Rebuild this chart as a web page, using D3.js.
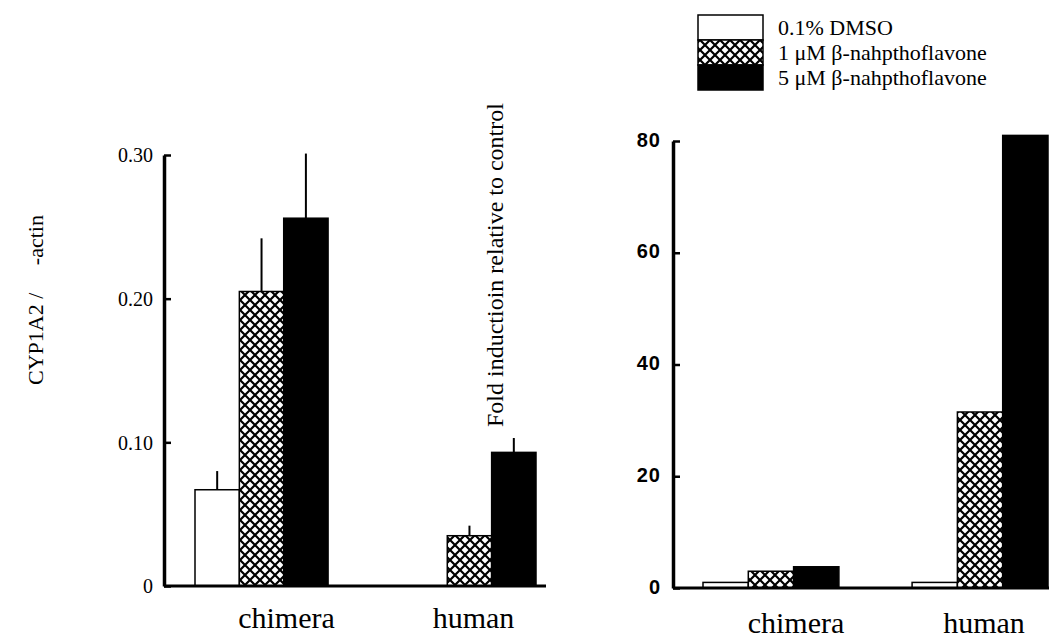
<!DOCTYPE html>
<html>
<head>
<meta charset="utf-8">
<script src="https://cdn.jsdelivr.net/npm/d3@7"></script>
<style>
  body { margin: 0; background: #fff; }
  svg { display: block; }
  text { fill: #000; }
</style>
</head>
<body>
<svg id="chart" width="1049" height="641"></svg>
<script>
// ---------- data ----------
const categories = ["chimera", "human"];
const seriesNames = ["0.1% DMSO", "1 μM β-nahpthoflavone", "5 μM β-nahpthoflavone"];

// left panel: CYP1A2 / β-actin
const leftDmso   = [0.067, 0.0];
const leftBnf1   = [0.205, 0.035];
const leftBnf5   = [0.256, 0.093];
const leftErrDmso = [0.013, 0.0];
const leftErrBnf1 = [0.037, 0.007];
const leftErrBnf5 = [0.045, 0.010];
const leftTicks = [0, 0.10, 0.20, 0.30];
const leftTickLabels = ["0", "0.10", "0.20", "0.30"];

// right panel: fold induction relative to control
const rightDmso = [1.0, 1.0];
const rightBnf1 = [3.0, 31.5];
const rightBnf5 = [3.8, 81];
const rightTicks = [0, 20, 40, 60, 80];
const rightTickLabels = ["0", "20", "40", "60", "80"];

const leftYLabel = "CYP1A2 /     -actin";
const rightYLabel = "Fold inductioin relative to control";

// ---------- setup ----------
const svg = d3.select("#chart");
const defs = svg.append("defs");
const pat = defs.append("pattern").attr("id", "xhatch")
  .attr("patternUnits", "userSpaceOnUse").attr("width", 10).attr("height", 10);
pat.append("rect").attr("width", 10).attr("height", 10).attr("fill", "#fff");
pat.append("path").attr("d", "M-1,-1 L11,11 M-1,11 L11,-1 M-6,4 L6,16 M4,-6 L16,6 M4,16 L16,4 M-6,6 L6,-6")
  .attr("stroke", "#000").attr("stroke-width", 2.2);

const fills = ["#fff", "url(#xhatch)", "#000"];
const serif = "'Liberation Serif', 'Times New Roman', serif";

function panel(opts) {
  const g = svg.append("g");
  const y = d3.scaleLinear().domain(opts.domain).range(opts.yRange);
  const x = d3.scaleBand().domain(categories).range(opts.xRange).paddingInner(opts.padInner).paddingOuter(0);
  const xs = d3.scaleBand().domain(d3.range(3)).range([0, x.bandwidth()]);

  // bars
  opts.values.forEach((vals, si) => {
    g.selectAll(null).data(vals).join("rect")
      .attr("x", (d, i) => x(categories[i]) + xs(si))
      .attr("width", xs.bandwidth())
      .attr("y", d => y(d))
      .attr("height", d => y(0) - y(d))
      .attr("fill", fills[si])
      .attr("stroke", "#000")
      .attr("stroke-width", 1.5);
    if (opts.errors) {
      g.selectAll(null).data(vals).join("line")
        .attr("x1", (d, i) => x(categories[i]) + xs(si) + xs.bandwidth() / 2)
        .attr("x2", (d, i) => x(categories[i]) + xs(si) + xs.bandwidth() / 2)
        .attr("y1", d => y(d))
        .attr("y2", (d, i) => y(d + opts.errors[si][i]))
        .attr("stroke", "#000").attr("stroke-width", 2);
    }
  });

  // baseline
  g.append("line")
    .attr("x1", opts.axisX).attr("x2", opts.baseEnd)
    .attr("y1", y(0)).attr("y2", y(0))
    .attr("stroke", "#000").attr("stroke-width", 3);

  // y axis
  const ax = g.append("g").attr("transform", `translate(${opts.axisX},0)`)
    .call(d3.axisLeft(y).tickValues(opts.ticks)
      .tickFormat((d, i) => opts.tickLabels[i])
      .tickSizeInner(-7).tickSizeOuter(0).tickPadding(opts.tickPad));
  ax.select(".domain").attr("stroke", "#000").attr("stroke-width", 3.5);
  ax.selectAll(".tick line").attr("stroke", "#000").attr("stroke-width", 2.5);
  ax.selectAll(".tick text")
    .style("font-family", opts.tickFont).style("font-size", opts.tickSize + "px")
    .style("font-weight", opts.tickWeight).style("letter-spacing", opts.tickSpacing)
    .attr("dy", opts.tickDy);

  // category labels
  g.selectAll(null).data(categories).join("text")
    .attr("x", (d, i) => x(d) + x.bandwidth() / 2 + opts.labelShift[i])
    .attr("y", opts.labelY)
    .attr("text-anchor", "middle")
    .style("font-family", serif).style("font-size", "30px")
    .text(d => d);
  return { x, y };
}

panel({
  domain: [0, 0.30], yRange: [586, 155],
  xRange: [195, 536], padInner: 0.36,
  axisX: 164, baseEnd: 546,
  values: [leftDmso, leftBnf1, leftBnf5],
  errors: [leftErrDmso, leftErrBnf1, leftErrBnf5],
  ticks: leftTicks, tickLabels: leftTickLabels,
  tickFont: serif, tickSize: 20, tickWeight: "normal", tickSpacing: "0px",
  tickPad: 11, tickDy: "0.34em",
  labelShift: [25, 4], labelY: 628
});

panel({
  domain: [0, 80], yRange: [588, 141],
  xRange: [703, 1048], padInner: 0.35,
  axisX: 673, baseEnd: 1049,
  values: [rightDmso, rightBnf1, rightBnf5],
  errors: null,
  ticks: rightTicks, tickLabels: rightTickLabels,
  tickFont: "'Liberation Sans', Arial, sans-serif", tickSize: 20, tickWeight: "bold", tickSpacing: "1px",
  tickPad: 12, tickDy: "0.25em",
  labelShift: [25, 4], labelY: 633
});

// axis titles
svg.append("text")
  .attr("transform", "translate(43,300) rotate(-90)")
  .attr("text-anchor", "middle")
  .attr("xml:space", "preserve")
  .style("white-space", "pre")
  .style("font-family", serif).style("font-size", "22px")
  .text(leftYLabel);

svg.append("text")
  .attr("transform", "translate(503,427) rotate(-90)")
  .attr("text-anchor", "start")
  .style("font-family", serif).style("font-size", "24px")
  .text(rightYLabel);

// legend
const legX = 698, legY = 15, legW = 65, rowH = 25;
const leg = svg.append("g");
seriesNames.forEach((name, i) => {
  leg.append("rect")
    .attr("x", legX).attr("y", legY + i * rowH)
    .attr("width", legW).attr("height", rowH)
    .attr("fill", fills[i]).attr("stroke", "#000").attr("stroke-width", 1.5);
  leg.append("text")
    .attr("x", legX + legW + 15).attr("y", legY + i * rowH + rowH / 2)
    .attr("dy", "0.36em")
    .style("font-family", serif).style("font-size", "22px")
    .text(name);
});
</script>
</body>
</html>
